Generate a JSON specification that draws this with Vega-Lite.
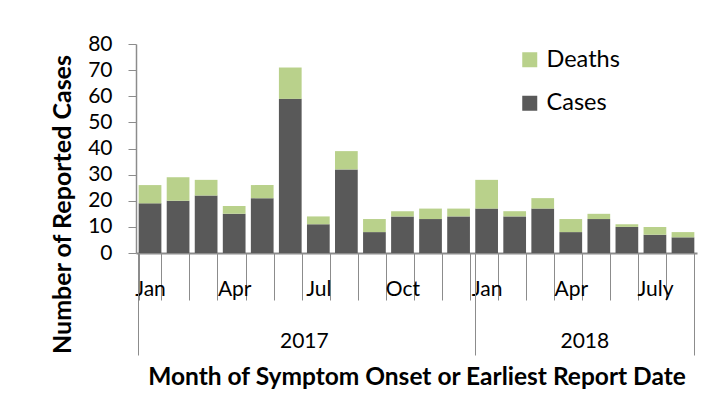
{
  "$schema": "https://vega.github.io/schema/vega-lite/v6.json",
  "autosize": "none",
  "width": 561,
  "height": 209,
  "padding": {"left": 136, "top": 44, "right": 19, "bottom": 160},
  "background": "white",
  "config": {
    "view": {"stroke": null},
    "font": "Lato",
    "axis": {"labelFont": "Lato", "titleFont": "Lato", "labelColor": "black", "titleColor": "black", "tickColor": "#8c8c8c", "domainColor": "#8c8c8c", "grid": false}
  },
  "data": {
    "values": [
      {"month": "2017-01", "series": "Cases", "count": 19},
      {"month": "2017-01", "series": "Deaths", "count": 7},
      {"month": "2017-02", "series": "Cases", "count": 20},
      {"month": "2017-02", "series": "Deaths", "count": 9},
      {"month": "2017-03", "series": "Cases", "count": 22},
      {"month": "2017-03", "series": "Deaths", "count": 6},
      {"month": "2017-04", "series": "Cases", "count": 15},
      {"month": "2017-04", "series": "Deaths", "count": 3},
      {"month": "2017-05", "series": "Cases", "count": 21},
      {"month": "2017-05", "series": "Deaths", "count": 5},
      {"month": "2017-06", "series": "Cases", "count": 59},
      {"month": "2017-06", "series": "Deaths", "count": 12},
      {"month": "2017-07", "series": "Cases", "count": 11},
      {"month": "2017-07", "series": "Deaths", "count": 3},
      {"month": "2017-08", "series": "Cases", "count": 32},
      {"month": "2017-08", "series": "Deaths", "count": 7},
      {"month": "2017-09", "series": "Cases", "count": 8},
      {"month": "2017-09", "series": "Deaths", "count": 5},
      {"month": "2017-10", "series": "Cases", "count": 14},
      {"month": "2017-10", "series": "Deaths", "count": 2},
      {"month": "2017-11", "series": "Cases", "count": 13},
      {"month": "2017-11", "series": "Deaths", "count": 4},
      {"month": "2017-12", "series": "Cases", "count": 14},
      {"month": "2017-12", "series": "Deaths", "count": 3},
      {"month": "2018-01", "series": "Cases", "count": 17},
      {"month": "2018-01", "series": "Deaths", "count": 11},
      {"month": "2018-02", "series": "Cases", "count": 14},
      {"month": "2018-02", "series": "Deaths", "count": 2},
      {"month": "2018-03", "series": "Cases", "count": 17},
      {"month": "2018-03", "series": "Deaths", "count": 4},
      {"month": "2018-04", "series": "Cases", "count": 8},
      {"month": "2018-04", "series": "Deaths", "count": 5},
      {"month": "2018-05", "series": "Cases", "count": 13},
      {"month": "2018-05", "series": "Deaths", "count": 2},
      {"month": "2018-06", "series": "Cases", "count": 10},
      {"month": "2018-06", "series": "Deaths", "count": 1},
      {"month": "2018-07", "series": "Cases", "count": 7},
      {"month": "2018-07", "series": "Deaths", "count": 3},
      {"month": "2018-08", "series": "Cases", "count": 6},
      {"month": "2018-08", "series": "Deaths", "count": 2}
    ]
  },
  "resolve": {"axis": {"x": "independent"}},
  "layer": [
    {
      "mark": {"type": "bar"},
      "encoding": {
        "x": {
          "field": "month", "type": "ordinal",
          "scale": {"paddingInner": 0.19, "paddingOuter": 0.095},
          "axis": {
            "orient": "bottom",
            "title": null,
            "tickBand": "extent",
            "tickSize": 47,
            "tickWidth": 1,
            "domainWidth": 2,
            "labelFontSize": 21,
            "labelPadding": -22,
            "labelAngle": 0,
            "labelOverlap": false,
            "labelExpr": "datum.value == '2017-01' ? 'Jan' : datum.value == '2017-04' ? 'Apr' : datum.value == '2017-07' ? 'Jul' : datum.value == '2017-10' ? 'Oct' : datum.value == '2018-01' ? 'Jan' : datum.value == '2018-04' ? 'Apr' : datum.value == '2018-07' ? 'July' : ''"
          }
        },
        "y": {
          "field": "count", "type": "quantitative", "stack": "zero",
          "scale": {"domain": [0, 80]},
          "axis": {
            "title": "Number of Reported Cases",
            "titleFontSize": 25,
            "titleFontWeight": "bold",
            "titlePadding": 12,
            "titleY": 160,
            "values": [0, 10, 20, 30, 40, 50, 60, 70, 80],
            "labelFontSize": 21,
            "labelPadding": 16,
            "tickSize": 8,
            "domainWidth": 1.5
          }
        },
        "color": {
          "field": "series", "type": "nominal",
          "scale": {"domain": ["Deaths", "Cases"], "range": ["#b9d18b", "#595959"]},
          "legend": {
            "title": null,
            "orient": "none",
            "legendX": 382,
            "legendY": 4,
            "symbolType": "square",
            "symbolSize": 225,
            "symbolStrokeWidth": 0,
            "labelFont": "Lato",
            "labelFontSize": 23.5,
            "labelColor": "black",
            "labelOffset": 5,
            "rowPadding": 18.5,
            "padding": 0
          }
        },
        "order": {"field": "series", "sort": "ascending"}
      }
    },
    {
      "mark": {"type": "bar", "opacity": 0},
      "encoding": {
        "x": {
          "field": "month", "type": "ordinal",
          "axis": {
            "orient": "bottom",
            "title": "Month of Symptom Onset or Earliest Report Date",
            "titleFontSize": 24.5,
            "titleFontWeight": "bold",
            "titlePadding": 10,
            "values": ["2017-01", "2018-01"],
            "bandPosition": 0,
            "tickSize": 102,
            "tickWidth": 1,
            "labels": false,
            "domain": false
          }
        }
      }
    },
    {
      "mark": {"type": "bar", "opacity": 0},
      "encoding": {
        "x": {
          "field": "month", "type": "ordinal",
          "axis": {
            "orient": "bottom",
            "title": null,
            "values": ["2018-08"],
            "bandPosition": 1,
            "tickSize": 102,
            "tickWidth": 1,
            "labels": false,
            "domain": false
          }
        }
      }
    },
    {
      "mark": {"type": "bar", "opacity": 0},
      "encoding": {
        "x": {
          "field": "month", "type": "ordinal",
          "axis": {
            "orient": "bottom",
            "title": null,
            "values": ["2017-07", "2018-05"],
            "ticks": false,
            "tickSize": 0,
            "domain": false,
            "labelFontSize": 21,
            "labelPadding": 77,
            "labelOffset": -14,
            "labelAngle": 0,
            "labelOverlap": false,
            "labelExpr": "slice(datum.value, 0, 4) == '2017' ? '2017' : '2018'"
          }
        }
      }
    }
  ]
}
